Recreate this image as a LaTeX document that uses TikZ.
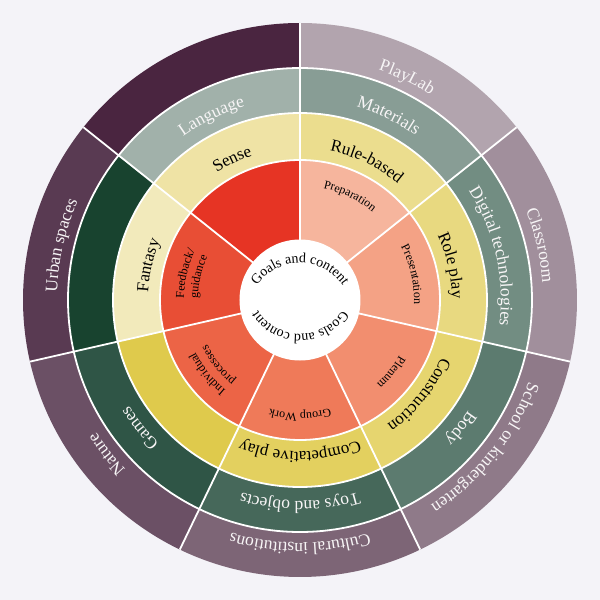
\documentclass[tikz,border=0pt]{standalone}
\usepackage{fontspec}
\setmainfont{Liberation Serif}
\usetikzlibrary{decorations.text}
\definecolor{bgc}{HTML}{F4F3F8}
% inner ring k0..k6
\definecolor{in0}{HTML}{F6B59D}
\definecolor{in1}{HTML}{F4A285}
\definecolor{in2}{HTML}{F28E6F}
\definecolor{in3}{HTML}{EF7A59}
\definecolor{in4}{HTML}{EC6446}
\definecolor{in5}{HTML}{E84E35}
\definecolor{in6}{HTML}{E63424}
% yellow ring
\definecolor{ye0}{HTML}{EBDD8E}
\definecolor{ye1}{HTML}{E8D980}
\definecolor{ye2}{HTML}{E6D56F}
\definecolor{ye3}{HTML}{E3D05F}
\definecolor{ye4}{HTML}{DFCA4C}
\definecolor{ye5}{HTML}{F2EABB}
\definecolor{ye6}{HTML}{EFE3A5}
% green ring
\definecolor{gr0}{HTML}{889D95}
\definecolor{gr1}{HTML}{728D82}
\definecolor{gr2}{HTML}{5C7B6F}
\definecolor{gr3}{HTML}{46685A}
\definecolor{gr4}{HTML}{2F5546}
\definecolor{gr5}{HTML}{18432F}
\definecolor{gr6}{HTML}{A1B1AA}
% purple ring
\definecolor{pu0}{HTML}{B2A4AE}
\definecolor{pu1}{HTML}{A18F9C}
\definecolor{pu2}{HTML}{8F7A89}
\definecolor{pu3}{HTML}{7D6576}
\definecolor{pu4}{HTML}{6B5065}
\definecolor{pu5}{HTML}{593A52}
\definecolor{pu6}{HTML}{4A2540}
\definecolor{lbw}{HTML}{F7F5F6}

\newcommand\fbig{\fontsize{17.5}{20}\selectfont}
\newcommand\fmid{\fontsize{17}{20}\selectfont}
\newcommand\fsml{\fontsize{12}{14}\selectfont}
\newcommand\fcen{\fontsize{14}{16}\selectfont}

\newcommand\wedgefill[3]{%
  \fill[#3] (0,0) -- ({90-#1*360/7}:#2) arc[start angle={90-#1*360/7}, end angle={90-(#1+1)*360/7}, radius=#2] -- cycle;}

\newcommand\arclabel[6]{%
  \path[decorate, decoration={text along path, text align=center, text color=#5, text={|#4|#6}}]
    ({#1+#2}:#3) arc[start angle={#1+#2}, end angle={#1-#2}, radius=#3];}

\tikzset{sepline/.style={white, line width=1.8pt}}

\begin{document}
\begin{tikzpicture}[x=1pt,y=1pt]
\fill[bgc] (-300,-300) rectangle (300,300);
\useasboundingbox (-300,-300) rectangle (300,300);

\foreach \k in {0,...,6} {\wedgefill{\k}{277}{pu\k}}
\foreach \k in {0,...,6} {\wedgefill{\k}{232}{gr\k}}
\foreach \k in {0,...,6} {\wedgefill{\k}{187}{ye\k}}
\foreach \k in {0,...,6} {\wedgefill{\k}{140}{in\k}}

\foreach \r in {140,187,232} {\draw[sepline] (0,0) circle[radius=\r];}
\foreach \k in {0,...,6} {\draw[sepline] ({90-\k*360/7}:60) -- ({90-\k*360/7}:277);}
\fill[white] (0,0) circle[radius=60.5];

% purple ring labels
\arclabel{64.286}{25}{243}{\fbig}{lbw}{PlayLab}
\arclabel{12.857}{25}{243}{\fbig}{lbw}{Classroom}
\arclabel{-38.571}{25}{243}{\fbig}{lbw}{School or kindergarten}
\arclabel{-90}{25}{243}{\fbig}{lbw}{Cultural institutions}
\arclabel{-141.429}{25}{243}{\fbig}{lbw}{Nature}
\arclabel{167.143}{25}{243}{\fbig}{lbw}{Urban spaces}

% green ring labels
\arclabel{115.714}{25}{201}{\fbig}{lbw}{Language}
\arclabel{64.286}{25}{201}{\fbig}{lbw}{Materials}
\arclabel{12.857}{25}{201}{\fbig}{lbw}{Digital technologies}
\arclabel{-38.571}{25}{201}{\fbig}{lbw}{Body}
\arclabel{-90}{25}{201}{\fbig}{lbw}{Toys and objects}
\arclabel{-141.429}{25}{201}{\fbig}{lbw}{Games}

% yellow ring labels
\arclabel{64.286}{25.5}{152}{\fmid}{black}{Rule-based}
\arclabel{12.857}{25.5}{152}{\fmid}{black}{Role play}
\arclabel{-38.571}{25.5}{152}{\fmid}{black}{Construction}
\arclabel{-90}{25.5}{152}{\fmid}{black}{Competative play}
\arclabel{167.143}{25.5}{152}{\fmid}{black}{Fantasy}
\arclabel{115.714}{25.5}{152}{\fmid}{black}{Sense}

% inner ring labels
\arclabel{64.286}{25}{114}{\fsml}{black}{Preparation}
\arclabel{12.857}{25}{114}{\fsml}{black}{Presentation}
\arclabel{-38.571}{25}{114}{\fsml}{black}{Plenum}
\arclabel{-90}{25}{113}{\fsml}{black}{Group Work}
\arclabel{-141.429}{25}{117}{\fsml}{black}{Individual}
\arclabel{-141.429}{25}{103}{\fsml}{black}{processes}
\arclabel{167.143}{25}{116}{\fsml}{black}{Feedback/}
\arclabel{167.143}{25}{102}{\fsml}{black}{guidance}

% centre labels
\path[shift={(0,-15)}, decorate, decoration={text along path, text align=center, text color=black, text={|\fcen|Goals and content}}]
  (160:52) arc[start angle=160, end angle=20, radius=52];
\path[shift={(0,16)}, decorate, decoration={text along path, text align=center, text color=black, text={|\fcen|Goals and content}}]
  (-20:50) arc[start angle=-20, end angle=-160, radius=50];
\end{tikzpicture}
\end{document}
